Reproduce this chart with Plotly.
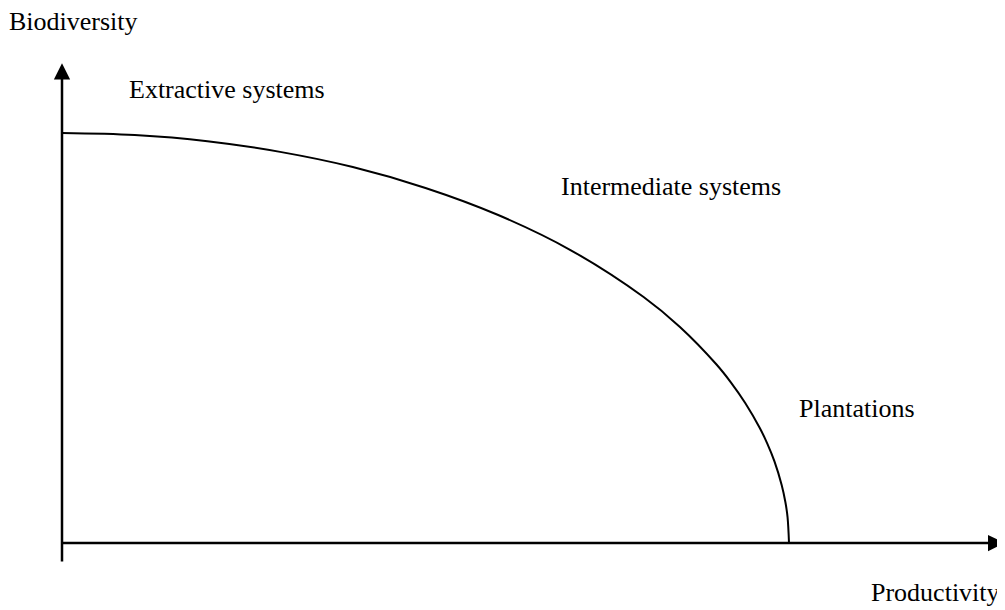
import plotly.graph_objects as go

# curve (productivity vs biodiversity, 0-100 scale)
productivity = [0, 10, 20, 30, 40, 50, 60, 70, 80, 85, 90, 92, 94, 96, 97, 98, 99, 99.5, 99.8, 100]
biodiversity = [100, 99.5, 98, 95.4, 91.7, 86.6, 80, 71.4, 60, 52.7, 43.6, 39.2, 34.1,
                28, 24.3, 19.9, 14.1, 10, 6.3, 0]

system_labels = ["Extractive systems", "Intermediate systems", "Plantations"]
axis_labels = ["Biodiversity", "Productivity"]

OFF = 8                # page body margin
W, H = 1005 - OFF, 610 - OFF
L, B = 62 - OFF, 610 - 543   # origin in page pixels: x=62, y=543
pw, ph = W - L, H - B
xu, yu = 7.27, 4.10    # pixels per data unit


def px(x, y):
    # page pixel -> paper coords
    return (x - OFF - L) / pw, (ph - (y - OFF)) / ph


fig = go.Figure()
fig.add_trace(go.Scatter(x=productivity, y=biodiversity, mode="lines",
                         line=dict(color="black", width=2, shape="spline", smoothing=1),
                         hoverinfo="skip", showlegend=False, cliponaxis=False))

fnt = dict(family="Liberation Serif, Times New Roman, serif", size=26, color="black")

# axes with arrows
fig.add_annotation(x=0, y=117, ax=0, ay=-4.9, xref="x", yref="y", axref="x", ayref="y",
                   text="", showarrow=True, arrowhead=2, arrowsize=1.3, arrowwidth=2.5,
                   arrowcolor="black")
fig.add_annotation(x=pw / xu - 0.1, y=0, ax=-0.2, ay=0, xref="x", yref="y", axref="x", ayref="y",
                   text="", showarrow=True, arrowhead=2, arrowsize=1.3, arrowwidth=2.5,
                   arrowcolor="black")

labels = [(axis_labels[0], 8, 22), (system_labels[0], 128, 90),
          (system_labels[1], 560, 186), (system_labels[2], 798, 408),
          (axis_labels[1], 870, 592)]
for t, x, y in labels:
    xp, yp = px(x, y)
    fig.add_annotation(x=xp, y=yp, xref="paper", yref="paper", text=t, showarrow=False,
                       xanchor="left", yanchor="middle", font=fnt, borderpad=0)

fig.update_xaxes(range=[0, pw / xu], visible=False)
fig.update_yaxes(range=[0, ph / yu], visible=False)
fig.update_layout(width=W, height=H, margin=dict(l=L, r=0, t=0, b=B, autoexpand=False),
                  plot_bgcolor="white", paper_bgcolor="white")
fig.write_html("out.html")
